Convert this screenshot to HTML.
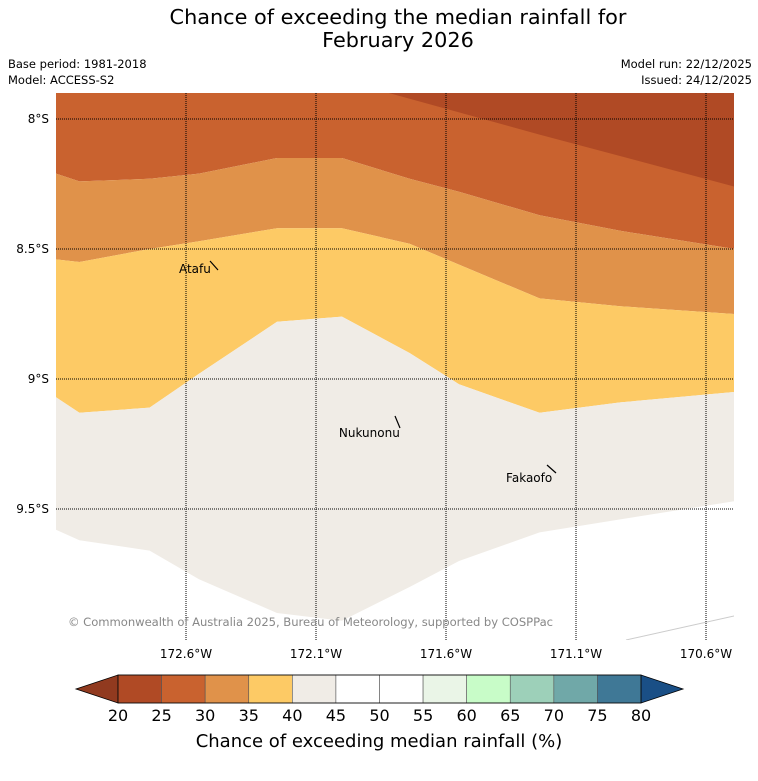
<!DOCTYPE html>
<html><head><meta charset="utf-8"><style>
body{margin:0;background:#fff;font-family:"Liberation Sans","DejaVu Sans",sans-serif}
svg{display:block}
</style></head><body>
<svg id="chart" width="758" height="781" xmlns="http://www.w3.org/2000/svg">
<text x="398" y="24" font-size="20.8" text-anchor="middle" font-family="DejaVu Sans, sans-serif">Chance of exceeding the median rainfall for</text>
<text x="398" y="47" font-size="20.8" text-anchor="middle" font-family="DejaVu Sans, sans-serif">February 2026</text>
<text x="8" y="68" font-size="11.5" font-family="DejaVu Sans, sans-serif">Base period: 1981-2018</text>
<text x="8" y="84" font-size="11.5" font-family="DejaVu Sans, sans-serif">Model: ACCESS-S2</text>
<text x="752" y="68" font-size="11.5" text-anchor="end" font-family="DejaVu Sans, sans-serif">Model run: 22/12/2025</text>
<text x="752" y="84" font-size="11.5" text-anchor="end" font-family="DejaVu Sans, sans-serif">Issued: 24/12/2025</text>
<defs><clipPath id="mapclip"><rect x="56" y="93" width="678" height="547"/></clipPath></defs>
<g id="map" clip-path="url(#mapclip)"></g>
<g id="grid"></g>
<g id="labels"></g>
<text x="68" y="626" font-size="11.6" fill="#888" font-family="DejaVu Sans, sans-serif" textLength="485">© Commonwealth of Australia 2025, Bureau of Meteorology, supported by COSPPac</text>
<g id="cbar"></g>
<text x="379" y="747" font-size="18" text-anchor="middle" font-family="DejaVu Sans, sans-serif">Chance of exceeding median rainfall (%)</text>
</svg>
<script>
const bLons=[-173.1,-173.01,-172.74,-172.55,-172.25,-172.0,-171.74,-171.55,-171.24,-170.93,-170.49];
const b30=[-8.21,-8.24,-8.23,-8.21,-8.15,-8.15,-8.23,-8.28,-8.37,-8.43,-8.50];
const b35=[-8.54,-8.55,-8.50,-8.47,-8.42,-8.42,-8.48,-8.56,-8.69,-8.72,-8.75];
const b40=[-9.07,-9.13,-9.11,-8.98,-8.78,-8.76,-8.90,-9.02,-9.13,-9.09,-9.05];
const b45=[-9.58,-9.62,-9.66,-9.77,-9.90,-9.93,-9.80,-9.70,-9.59,-9.54,-9.47];
const b25Lons=[-171.82,-171.24,-170.49];
const b25Lats=[-7.90,-8.06,-8.26];
const lonTicks=[-172.6,-172.1,-171.6,-171.1,-170.6];
const latTicks=[-8,-8.5,-9,-9.5];
const places=["Atafu","Nukunonu","Fakaofo"];
const placeLon=[-172.627,-172.012,-171.369];
const placeLat=[-8.577,-9.208,-9.381];
const cbLevels=[20,25,30,35,40,45,50,55,60,65,70,75,80];
const cbColors=["#b04a25","#c9622f","#e0924a","#fdca65","#f0ece6","#ffffff","#ffffff","#eaf5e7","#c8fcc8","#9dd0b9","#70a8a8","#3f7896"];
const X=lon=>186+(lon+172.6)*260;
const Y=lat=>119+(-8-lat)*260;
const NS="http://www.w3.org/2000/svg";
function mk(tag,attrs,parent){const e=document.createElementNS(NS,tag);for(const k in attrs)e.setAttribute(k,attrs[k]);parent.appendChild(e);return e;}
const map=document.getElementById('map');
let r=mk('rect',{x:56,y:93,width:678,height:547,fill:'#ffffff'},map);


function band(upper,lower,fill,name){
  let pts=[];
  bLons.forEach((l,i)=>pts.push(X(l)+','+(upper?Y(upper[i]):80)));
  for(let i=bLons.length-1;i>=0;i--)pts.push(X(bLons[i])+','+Y(lower[i]));
  const p=mk('polygon',{points:pts.join(' '),fill:fill},map);
  
  
}
band(null,b30,'#c9622f','band-25-30');
band(b30,b35,'#e0924a','band-30-35');
band(b35,b40,'#fdca65','band-35-40');
band(b40,b45,'#f0ece6','band-40-45');
{let pts=[X(b25Lons[0])+','+Y(b25Lats[0])];
 b25Lons.forEach((l,i)=>pts.push(X(l)+','+Y(b25Lats[i])));
 pts.push('800,'+Y(b25Lats[2]),'800,80',X(b25Lons[0])+',80');
 const p=mk('polygon',{points:pts.join(' '),fill:'#b04a25'},map);
 
 }
let fl=mk('line',{x1:626,y1:640,x2:734,y2:616,stroke:'#ccc','stroke-width':1},map);


const grid=document.getElementById('grid');
lonTicks.forEach(l=>{
  const g=mk('line',{x1:X(l),y1:93,x2:X(l),y2:640,stroke:'#000','stroke-width':1,'stroke-dasharray':'1,1'},grid);
  
  
  const t=mk('text',{x:X(l),y:658,'font-size':12,'text-anchor':'middle','font-family':'DejaVu Sans, sans-serif'},grid);
  t.textContent=Math.abs(l).toFixed(1)+'°W';
  
  
});
latTicks.forEach(l=>{
  const g=mk('line',{x1:56,y1:Y(l),x2:734,y2:Y(l),stroke:'#000','stroke-width':1,'stroke-dasharray':'1,1'},grid);
  
  
  const t=mk('text',{x:49,y:Y(l)+4,'font-size':12,'text-anchor':'end','font-family':'DejaVu Sans, sans-serif'},grid);
  t.textContent=Math.abs(l)+'°S';
  
  
});
const lab=document.getElementById('labels');
const islandMarks=[[210,261,218,270],[395,416,400,428],[547,465,556,473]];
places.forEach((n,i)=>{
  const t=mk('text',{x:X(placeLon[i]),y:Y(placeLat[i])+4,'font-size':12,'font-family':'DejaVu Sans, sans-serif'},lab);
  t.textContent=n;
  
  
  const m=islandMarks[i];
  const l=mk('line',{x1:m[0],y1:m[1],x2:m[2],y2:m[3],stroke:'#000','stroke-width':1.2},lab);
  
  
});
const cb=document.getElementById('cbar');
const cx0=118,cx1=641,cy0=675,cy1=703;
const cw=(cx1-cx0)/cbColors.length;
let tl=mk('polygon',{points:`76,689 ${cx0},${cy0} ${cx0},${cy1}`,fill:'#913a1f',stroke:'#000','stroke-width':0.8},cb);


let tr=mk('polygon',{points:`683,689 ${cx1},${cy0} ${cx1},${cy1}`,fill:'#1a4f86',stroke:'#000','stroke-width':0.8},cb);


cbColors.forEach((c,i)=>{
  const b=mk('rect',{x:cx0+i*cw,y:cy0,width:cw,height:cy1-cy0,fill:c,stroke:'#555','stroke-width':0.6},cb);
  
  
});
let ob=mk('rect',{x:cx0,y:cy0,width:cx1-cx0,height:cy1-cy0,fill:'none',stroke:'#000','stroke-width':0.8},cb);


cbLevels.forEach((v,i)=>{
  const t=mk('text',{x:cx0+i*cw,y:721,'font-size':16,'text-anchor':'middle','font-family':'DejaVu Sans, sans-serif'},cb);
  t.textContent=v;
  
  
});
</script>
</body></html>
